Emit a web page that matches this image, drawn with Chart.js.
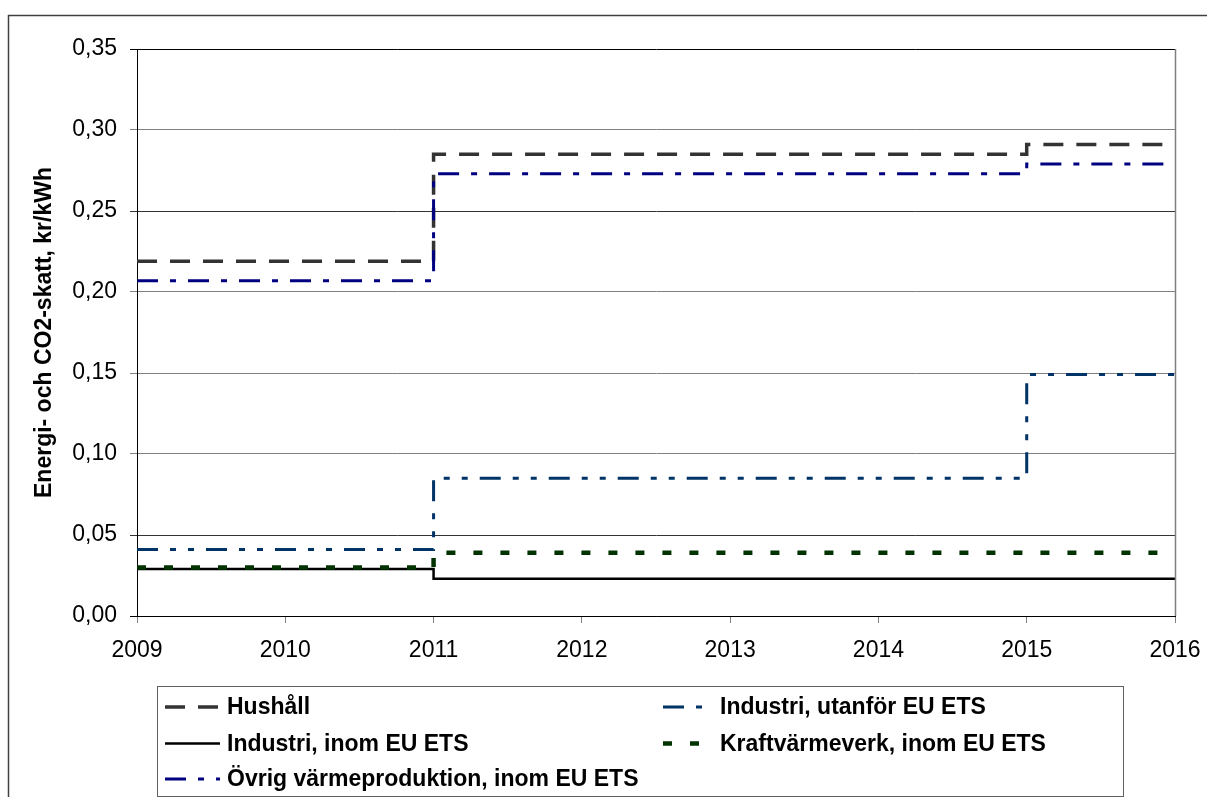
<!DOCTYPE html>
<html>
<head>
<meta charset="utf-8">
<script src="https://cdn.jsdelivr.net/npm/chart.js@4/dist/chart.umd.min.js"></script>
<style>
  html, body { margin: 0; padding: 0; background: #ffffff; }
  #c { display: block; }
</style>
</head>
<body>
<canvas id="c" width="1207" height="797"></canvas>
<script>
// ---- data ----
const years = [2009, 2011, 2015, 2016];
const hushall = [0.219, 0.285, 0.291, 0.291];
const industriUtanfor = [0.041, 0.085, 0.149, 0.149];
const industriInom = [0.029, 0.023, 0.023, 0.023];
const kraftvarme = [0.030, 0.039, 0.039, 0.039];
const ovrigVarme = [0.207, 0.273, 0.279, 0.279];
const seriesNames = [
  'Hushåll',
  'Industri, utanför EU ETS',
  'Industri, inom EU ETS',
  'Kraftvärmeverk, inom EU ETS',
  'Övrig värmeproduktion, inom EU ETS'
];
const yTickValues = [0, 0.05, 0.10, 0.15, 0.20, 0.25, 0.30, 0.35];
const xTickYears = [2009, 2010, 2011, 2012, 2013, 2014, 2015, 2016];
const yTitle = 'Energi- och CO2-skatt, kr/kWh';

const toPts = arr => years.map((x, i) => ({ x: x, y: arr[i] }));

const FONT = "'Liberation Sans', Arial, sans-serif";

const datasets = [
  { label: seriesNames[0], data: toPts(hushall), borderColor: '#333333', borderWidth: 3.5, borderDash: [20, 13], order: 1 },
  { label: seriesNames[1], data: toPts(industriUtanfor), borderColor: '#003366', borderWidth: 3, borderDash: [21, 12, 6, 12, 6, 12], order: 2 },
  { label: seriesNames[2], data: toPts(industriInom), borderColor: '#000000', borderWidth: 2.5, borderDash: [], order: 5 },
  { label: seriesNames[3], data: toPts(kraftvarme), borderColor: '#003300', borderWidth: 4.5, borderDash: [9, 18], order: 3 },
  { label: seriesNames[4], data: toPts(ovrigVarme), borderColor: '#000080', borderWidth: 3, borderDash: [21, 12, 6, 12], order: 0 }
].map(d => Object.assign(d, { stepped: 'before', pointRadius: 0, fill: false, tension: 0, borderCapStyle: 'butt' }));

const gridColors = { 0: '#000000', 1: '#333333', 2: '#808080', 3: '#808080', 4: '#808080', 5: '#333333', 6: '#808080', 7: '#000000' };

const framePlugin = {
  id: 'frame',
  beforeDraw(chart) {
    const ctx = chart.ctx;
    ctx.save();
    ctx.fillStyle = '#ffffff';
    ctx.fillRect(0, 0, chart.width, chart.height);
    ctx.strokeStyle = '#404040';
    ctx.lineWidth = 1.5;
    ctx.strokeRect(8.5, 15.5, chart.width + 20, chart.height + 20);
    ctx.restore();
  },
  afterDraw(chart) {
    const ctx = chart.ctx;
    const a = chart.chartArea;
    ctx.save();
    // right plot border
    ctx.strokeStyle = '#808080';
    ctx.lineWidth = 1.5;
    ctx.beginPath();
    ctx.moveTo(Math.round(a.right) + 0.5, a.top);
    ctx.lineTo(Math.round(a.right) + 0.5, a.bottom);
    ctx.stroke();

    // legend box
    ctx.strokeStyle = '#606060';
    ctx.lineWidth = 1;
    ctx.strokeRect(157.5, 686.5, 966, 110);

    const entries = [
      { idx: 0, col: 0, row: 0 },
      { idx: 1, col: 1, row: 0 },
      { idx: 2, col: 0, row: 1 },
      { idx: 3, col: 1, row: 1 },
      { idx: 4, col: 0, row: 2 }
    ];
    const colX = [{ s: 165, e: 220, t: 227 }, { s: 663, e: 713, t: 720 }];
    const rowY = [707, 743.5, 779];
    ctx.font = 'bold 23px ' + FONT;
    ctx.textBaseline = 'middle';
    ctx.textAlign = 'left';
    entries.forEach(en => {
      const ds = chart.data.datasets[en.idx];
      const c = colX[en.col];
      const y = rowY[en.row];
      ctx.save();
      ctx.strokeStyle = ds.borderColor;
      ctx.lineWidth = ds.borderWidth;
      ctx.setLineDash(ds.borderDash || []);
      ctx.lineCap = 'butt';
      ctx.beginPath();
      ctx.moveTo(c.s, y);
      ctx.lineTo(c.e, y);
      ctx.stroke();
      ctx.restore();
      ctx.fillStyle = '#000000';
      ctx.fillText(ds.label, c.t, y + 1);
    });
    ctx.restore();
  }
};

new Chart(document.getElementById('c'), {
  type: 'line',
  data: { datasets: datasets },
  plugins: [framePlugin],
  options: {
    responsive: false,
    animation: false,
    devicePixelRatio: 1,
    layout: { padding: { left: 0, top: 49, right: 32, bottom: 0 } },
    plugins: { legend: { display: false }, tooltip: { enabled: false } },
    scales: {
      x: {
        type: 'linear',
        min: xTickYears[0],
        max: xTickYears[xTickYears.length - 1],
        afterBuildTicks(scale) { scale.ticks = xTickYears.map(v => ({ value: v })); },
        afterFit(scale) { scale.height = 797 - 616; scale.paddingLeft = 0; scale.paddingRight = 0; },
        ticks: {
          callback: v => String(v),
          color: '#000000',
          font: { family: FONT, size: 23 },
          padding: 14,
          maxRotation: 0,
          autoSkip: false
        },
        grid: { drawOnChartArea: false, drawTicks: true, tickLength: 7, color: '#808080' },
        border: { display: true, color: '#000000', width: 1 }
      },
      y: {
        type: 'linear',
        min: 0,
        max: 0.35,
        afterBuildTicks(scale) { scale.ticks = yTickValues.map(v => ({ value: v })); },
        afterFit(scale) { scale.width = 137; scale.paddingTop = 0; scale.paddingBottom = 0; },
        ticks: {
          callback: v => v.toFixed(2).replace('.', ','),
          color: '#000000',
          font: { family: FONT, size: 23 },
          padding: 13
        },
        grid: {
          drawTicks: true,
          tickLength: 7,
          color: ctx => gridColors[ctx.index] || '#808080',
          lineWidth: 1
        },
        border: { display: true, color: '#000000', width: 1 },
        title: {
          display: true,
          text: yTitle,
          color: '#000000',
          font: { family: FONT, size: 23, weight: 'bold' },
          padding: { top: 31, bottom: 0 }
        }
      }
    }
  }
});
</script>
</body>
</html>
